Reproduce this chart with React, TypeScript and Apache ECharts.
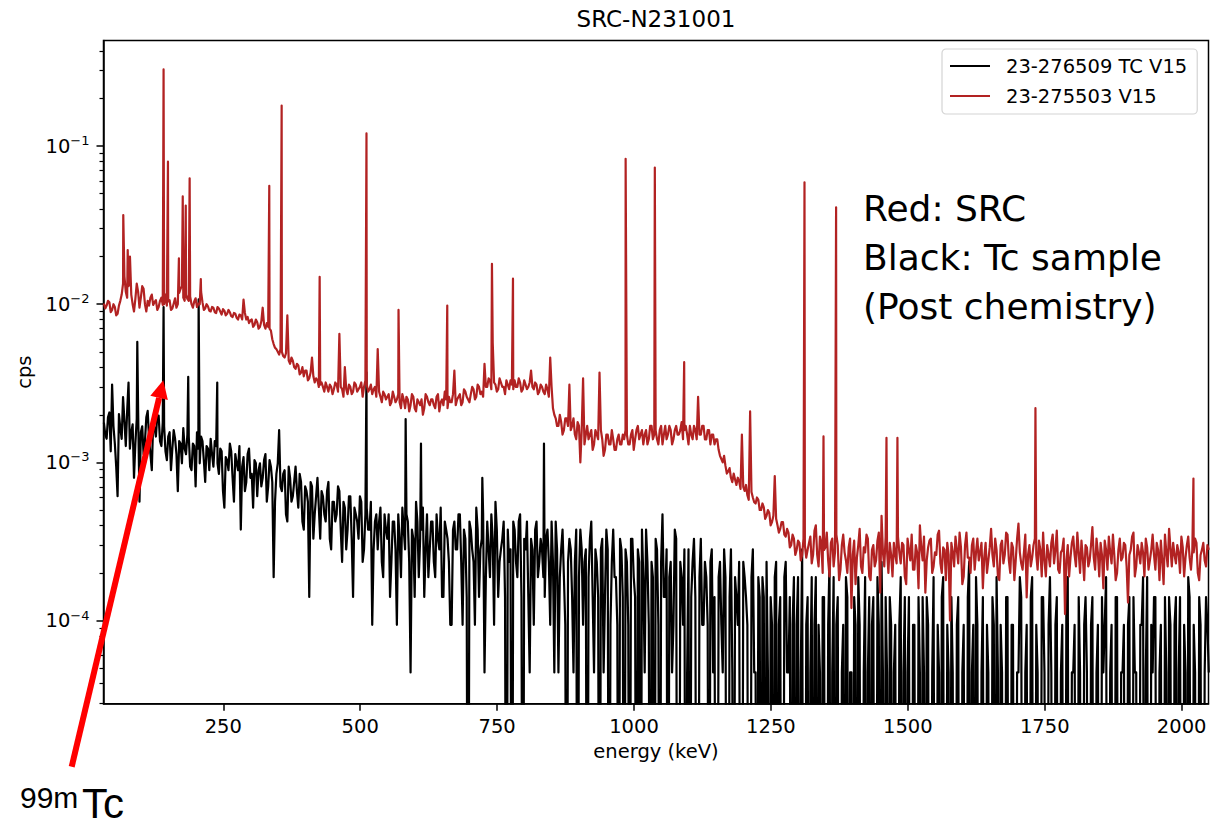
import React, { useEffect, useRef } from 'react';
import * as echarts from 'echarts';

const TITLE = 'SRC-N231001';
const BLACK_NAME = '23-276509 TC V15';
const RED_NAME = '23-275503 V15';
const X_NAME = 'energy (keV)';
const Y_NAME = 'cps';
const NOTE_LINES = ['Red: SRC', 'Black: Tc sample', '(Post chemistry)'];

// two interleaved channel grids (keV): A at 32, 37, 42 ... and B at 34.5, 39.5, 44.5 ...
const GRID_A_START_KEV = 32;
const GRID_B_START_KEV = 34.5;
const GRID_STEP_KEV = 5;

// red spectrum (units of 1e-5 cps), grid A channels
const redBackgroundA = [
  1010, 980, 1030, 920, 960, 870, 1050, 1350, 1200, 1300,
  1150, 900, 1350, 950, 1300, 1000, 1050, 1100, 990, 1060,
  960, 1100, 1000, 980, 1060, 940, 1090, 1000, 1250, 1100,
  1150, 1050, 1000, 1040, 960, 1000, 1030, 940, 970, 900,
  950, 880, 940, 860, 910, 870, 890, 830, 870, 800,
  850, 1070, 800, 760, 800, 740, 770, 720, 950, 700,
  720, 680, 560, 520, 480, 500, 460, 850, 420, 440,
  390, 410, 370, 350, 380, 340, 460, 320, 330, 310,
  300, 320, 280, 300, 290, 310, 650, 290, 400, 270,
  300, 280, 310, 290, 320, 300, 310, 290, 270, 300,
  520, 260, 280, 250, 270, 240, 260, 250, 240, 270,
  220, 250, 230, 260, 210, 240, 250, 220, 260, 230,
  250, 220, 270, 240, 230, 250, 260, 240, 380, 250,
  270, 240, 280, 250, 270, 290, 260, 300, 280, 420,
  300, 330, 570, 310, 290, 320, 300, 330, 290, 310,
  330, 300, 320, 290, 310, 300, 380, 290, 310, 280,
  300, 270, 290, 460, 220, 190, 170, 180, 160, 190,
  310, 170, 150, 180, 100, 340, 150, 140, 160, 130,
  150, 370, 140, 120, 150, 130, 140, 120, 150, 130,
  140, 150, 130, 160, 140, 170, 150, 130, 160, 140,
  170, 150, 140, 160, 130, 170, 150, 160, 140, 170,
  150, 180, 160, 150, 170, 140, 160, 260, 150, 170,
  140, 160, 150, 130, 140, 110, 100, 95, 88, 80,
  85, 72, 76, 150, 66, 62, 210, 60, 55, 58,
  50, 52, 46, 48, 42, 82, 40, 38, 42, 34,
  36, 30, 33, 28, 31, 26, 30, 28, 34, 26,
  40, 22, 31, 28, 36, 19, 33, 27, 30, 21,
  35, 24, 29, 12, 32, 25, 38, 20, 27, 33,
  18, 30, 24, 36, 46, 22, 28, 31, 19, 26,
  34, 23, 30, 17, 28, 35, 21, 27, 40, 24,
  15, 29, 33, 22, 26, 37, 20, 28, 31, 10,
  27, 34, 23, 29, 19, 36, 25, 30, 21, 33,
  27, 16, 31, 24, 38, 22, 28, 18, 32, 26,
  35, 20, 29, 24, 41, 23, 27, 14, 30, 25,
  33, 21, 28, 36, 19, 26, 31, 23, 37, 20,
  28, 11, 30, 25, 34, 22, 27, 32, 18, 29,
  24, 39, 21, 27, 31, 16, 28, 34, 23, 26,
  20, 33, 25, 30, 13, 28, 36, 22, 27, 31,
  19, 29, 24, 35, 21, 28, 32, 17, 27, 38,
  22, 26, 30, 20, 29, 25, 34, 21, 27, 31,
  18, 28, 24, 30,
];

// red spectrum (units of 1e-5 cps), grid B channels
const redBackgroundB = [
  940, 1050, 890, 1000, 850, 980, 1150, 1500, 1100, 1400,
  1000, 1080, 1200, 1100, 1250, 900, 980, 1150, 1030, 920,
  1050, 990, 1150, 1040, 920, 1010, 950, 1180, 1300, 1050,
  1080, 1120, 950, 1090, 1010, 1200, 920, 1000, 910, 960,
  890, 960, 900, 930, 850, 920, 840, 880, 820, 860,
  800, 880, 830, 790, 720, 800, 700, 780, 740, 760,
  700, 600, 530, 500, 520, 470, 490, 440, 460, 400,
  420, 360, 400, 380, 330, 370, 350, 340, 300, 320,
  280, 300, 310, 270, 320, 280, 300, 260, 290, 310,
  270, 320, 280, 300, 260, 330, 280, 310, 290, 260,
  280, 240, 270, 260, 230, 280, 240, 270, 220, 250,
  260, 210, 270, 220, 250, 230, 200, 270, 240, 250,
  230, 260, 210, 250, 280, 220, 240, 270, 230, 260,
  230, 290, 260, 240, 300, 250, 310, 270, 260, 300,
  340, 290, 320, 280, 340, 300, 270, 310, 330, 290,
  300, 340, 280, 330, 290, 320, 300, 320, 270, 310,
  280, 310, 260, 300, 200, 170, 200, 150, 190, 170,
  160, 190, 140, 170, 160, 130, 170, 150, 120, 160,
  140, 160, 110, 150, 130, 160, 120, 140, 130, 150,
  160, 130, 150, 120, 160, 140, 160, 150, 130, 170,
  140, 160, 130, 170, 150, 140, 170, 130, 160, 150,
  160, 140, 170, 130, 150, 170, 140, 150, 170, 140,
  160, 130, 150, 140, 120, 105, 110, 85, 92, 75,
  78, 80, 68, 70, 72, 58, 65, 56, 60, 50,
  55, 44, 50, 40, 46, 44, 36, 42, 35, 38,
  29, 35, 26, 32, 24, 33, 25, 31, 23, 37,
  26, 34, 20, 29, 24, 31, 22, 35, 18, 30,
  27, 20, 33, 26, 17, 30, 22, 29, 35, 19,
  28, 22, 32, 15, 27, 34, 20, 26, 31, 23,
  27, 31, 19, 33, 24, 21, 30, 16, 29, 34,
  24, 32, 20, 27, 35, 23, 29, 18, 26, 31,
  22, 28, 36, 17, 30, 25, 20, 33, 27, 24,
  31, 25, 20, 29, 26, 33, 19, 30, 23, 36,
  24, 31, 18, 33, 27, 21, 35, 26, 22, 30,
  26, 32, 19, 24, 30, 22, 35, 28, 21, 27,
  33, 24, 19, 31, 26, 36, 20, 25, 30, 22,
  30, 25, 33, 19, 26, 32, 21, 27, 35, 18,
  28, 24, 31, 22, 26, 34, 19, 30, 23, 27,
  33, 21, 28, 26, 31, 18, 24, 35, 22, 29,
  31, 23, 27, 34, 19, 30, 25, 28, 33, 20,
  26, 31, 22, 28,
];
const RED_UNIT_CPS = 1e-5;

// red photopeaks (keV, cps)
const redPeakKeV = [67.4, 75.5, 79.6, 141, 149, 169, 176, 181.5, 188.6, 209, 334, 356.6, 426, 511.5, 570, 659, 740.6, 779, 984.7, 1038, 1091.6, 1311.3, 1346, 1369, 1461, 1481, 1733, 2021.5];
const redPeakCps = [0.0366, 0.022, 0.02, 0.305, 0.0796, 0.0195, 0.048, 0.042, 0.0625, 0.0144, 0.056, 0.18, 0.0149, 0.12, 0.0092, 0.0098, 0.018, 0.0145, 0.083, 0.073, 0.0043, 0.059, 0.00146, 0.041, 0.00143, 0.00143, 0.0022, 0.00079];

// black spectrum in counts per channel (1 count = BLACK_CPS_PER_COUNT cps), grid A
const BLACK_CPS_PER_COUNT = 4.7e-5;
const blackCountsA = [
  38, 30, 44, 66, 28, 13, 35, 55, 27, 68,
  33, 17, 40, 12, 36, 29, 45, 24, 38, 31,
  42, 27, 36, 22, 33, 26, 30, 14, 28, 35,
  24, 31, 19, 27, 33, 21, 29, 16, 26, 30,
  20, 27, 18, 25, 11, 22, 28, 17, 24, 19,
  8, 23, 16, 26, 18, 22, 13, 21, 17, 24,
  15, 20, 4, 18, 34, 14, 19, 9, 17, 13,
  20, 11, 16, 8, 14, 3, 15, 10, 17, 7,
  13, 9, 16, 6, 12, 10, 14, 5, 11, 8,
  13, 3, 10, 7, 12, 6, 11, 8, 2, 9,
  6, 11, 4, 8, 10, 5, 9, 2, 7, 11,
  6, 9, 1, 7, 12, 4, 8, 3, 10, 6,
  9, 4, 7, 11, 3, 8, 5, 2, 9, 6,
  10, 2, 7, 0, 8, 5, 11, 3, 7, 1,
  9, 4, 7, 12, 3, 6, 9, 0, 5, 0,
  8, 4, 10, 0, 6, 3, 7, 2, 9, 5,
  6, 3, 8, 2, 5, 9, 1, 6, 4, 0,
  7, 3, 5, 0, 8, 2, 6, 4, 9, 1,
  5, 0, 7, 3, 6, 2, 8, 4, 0, 6,
  0, 5, 0, 7, 3, 6, 0, 4, 8, 2,
  5, 0, 6, 0, 10, 3, 0, 5, 2, 7,
  0, 4, 6, 1, 0, 5, 3, 0, 7, 2,
  4, 0, 6, 3, 0, 5, 1, 4, 0, 6,
  0, 3, 5, 0, 4, 2, 0, 6, 1, 4,
  0, 3, 5, 0, 2, 4, 0, 3, 0, 5,
  1, 0, 4, 2, 0, 6, 0, 3, 1, 0,
  4, 2, 0, 3, 0, 5, 1, 0, 3, 0,
  2, 4, 0, 1, 3, 0, 2, 0, 4, 1,
  0, 3, 0, 2, 5, 0, 1, 3, 0, 2,
  0, 4, 1, 0, 3, 0, 2, 0, 1, 3,
  0, 2, 0, 4, 0, 1, 3, 0, 2, 0,
  1, 0, 3, 0, 2, 0, 5, 1, 0, 2,
  0, 3, 0, 1, 0, 2, 4, 0, 1, 0,
  3, 0, 2, 0, 1, 3, 0, 2, 0, 4,
  0, 1, 0, 3, 0, 2, 1, 0, 3, 0,
  2, 0, 4, 0, 1, 0, 3, 0, 2, 1,
  0, 3, 0, 2, 0, 1, 4, 0, 2, 0,
  3, 0, 1, 0, 2, 0, 3, 1, 0, 2,
  0, 4, 0, 1, 3, 0, 2, 0, 1, 3,
  0, 2, 0, 3, 0, 1, 4, 0, 2, 0,
  3, 0, 1, 2,
];

// black spectrum in counts per channel, grid B
const blackCountsB = [
  32, 41, 25, 36, 20, 43, 30, 39, 45, 26,
  37, 28, 46, 33, 24, 41, 30, 19, 35, 42,
  29, 38, 25, 31, 19, 34, 24, 29, 21, 26,
  32, 20, 28, 15, 26, 31, 22, 27, 19, 24,
  29, 21, 26, 14, 23, 19, 25, 12, 21, 27,
  20, 14, 24, 17, 11, 21, 19, 15, 22, 12,
  22, 16, 12, 21, 15, 18, 10, 20, 12, 16,
  14, 18, 9, 15, 12, 16, 7, 13, 11, 14,
  10, 14, 7, 12, 9, 15, 8, 12, 6, 13,
  7, 11, 9, 13, 5, 10, 8, 12, 6, 10,
  9, 5, 10, 7, 3, 9, 6, 10, 4, 8,
  10, 5, 8, 3, 9, 7, 11, 6, 4, 9,
  5, 10, 6, 3, 9, 7, 2, 8, 6, 10,
  5, 8, 3, 9, 6, 2, 8, 6, 10, 4,
  6, 10, 2, 8, 5, 7, 3, 8, 6, 9,
  5, 9, 3, 7, 9, 1, 6, 8, 4, 7,
  4, 7, 5, 9, 1, 6, 4, 8, 2, 5,
  6, 1, 8, 4, 6, 5, 0, 7, 3, 6,
  3, 6, 1, 8, 0, 5, 4, 2, 7, 3,
  6, 2, 7, 4, 0, 5, 8, 1, 5, 0,
  4, 7, 2, 5, 3, 6, 4, 1, 8, 0,
  5, 2, 0, 6, 3, 7, 0, 4, 2, 5,
  2, 5, 1, 0, 4, 2, 6, 0, 3, 1,
  4, 2, 0, 5, 3, 0, 4, 1, 0, 3,
  4, 0, 1, 3, 0, 5, 2, 0, 4, 1,
  3, 2, 0, 4, 1, 0, 2, 0, 4, 2,
  0, 1, 3, 0, 2, 0, 4, 2, 0, 1,
  0, 3, 1, 0, 2, 4, 0, 1, 0, 3,
  2, 0, 4, 0, 1, 3, 0, 2, 1, 0,
  2, 0, 3, 1, 0, 2, 0, 3, 0, 1,
  3, 0, 1, 0, 2, 0, 4, 0, 1, 3,
  0, 2, 0, 1, 0, 3, 0, 2, 4, 0,
  1, 0, 2, 0, 3, 0, 1, 2, 0, 3,
  0, 2, 0, 1, 4, 0, 1, 0, 3, 0,
  2, 0, 3, 1, 0, 4, 0, 2, 0, 1,
  0, 3, 0, 1, 2, 0, 1, 0, 3, 0,
  2, 0, 1, 0, 3, 2, 0, 1, 0, 3,
  0, 1, 2, 0, 3, 0, 1, 0, 2, 4,
  1, 0, 2, 3, 0, 1, 0, 3, 0, 2,
  0, 3, 1, 0, 2, 0, 3, 0, 1, 0,
  2, 0, 3, 1,
];

// black photopeaks (keV, counts)
const blackPeakKeV = [93, 141, 186, 205, 239, 511.5, 583, 611, 723, 835.6];
const blackPeakCounts = [123, 204, 74, 228, 68, 79, 40, 28, 17, 28];

// zero-count channels fall below the log axis (clipped, as in matplotlib)
const BELOW_AXIS_CPS = 1e-7;

const X_MIN = 31.3;
const X_MAX = 2049;
const Y_MIN = 2.983e-5;
const Y_MAX = 0.4644;
const xTicks = [250, 500, 750, 1000, 1250, 1500, 1750, 2000];
const yMajorTicks = [1e-4, 1e-3, 1e-2, 1e-1];
const yMinorTicks = [
  3e-5, 4e-5, 5e-5, 6e-5, 7e-5, 8e-5, 9e-5,
  2e-4, 3e-4, 4e-4, 5e-4, 6e-4, 7e-4, 8e-4, 9e-4,
  2e-3, 3e-3, 4e-3, 5e-3, 6e-3, 7e-3, 8e-3, 9e-3,
  2e-2, 3e-2, 4e-2, 5e-2, 6e-2, 7e-2, 8e-2, 9e-2,
  2e-1, 3e-1, 4e-1,
];

// arrow annotation: points at the 99mTc peak of the black spectrum
const ARROW_TARGET_KEV = 140.4;
const ARROW_TARGET_CPS = 3.3e-3;

const RED = '#b22222';
const FONT = 'DejaVu Sans';

function buildSeriesData(
  gridA: number[],
  gridB: number[],
  toCps: (v: number) => number,
  peakKeV: number[],
  peakVals: number[],
): number[][] {
  const pts: number[][] = [];
  gridA.forEach((v, i) => pts.push([GRID_A_START_KEV + i * GRID_STEP_KEV, toCps(v)]));
  gridB.forEach((v, i) => pts.push([GRID_B_START_KEV + i * GRID_STEP_KEV, toCps(v)]));
  peakKeV.forEach((e, i) => pts.push([e, toCps(peakVals[i])]));
  pts.sort((a, b) => a[0] - b[0]);
  return pts;
}

export default function App() {
  const ref = useRef<HTMLDivElement>(null);

  useEffect(() => {
    if (!ref.current) return;
    const chart = echarts.init(ref.current, undefined, { renderer: 'svg' });

    const redData = buildSeriesData(
      redBackgroundA,
      redBackgroundB,
      (v) => v * RED_UNIT_CPS,
      redPeakKeV,
      redPeakCps.map((c) => c / RED_UNIT_CPS),
    );

    const blackData = buildSeriesData(
      blackCountsA,
      blackCountsB,
      (c) => (c > 0 ? c * BLACK_CPS_PER_COUNT : BELOW_AXIS_CPS),
      blackPeakKeV,
      blackPeakCounts,
    );

    const axisLineStyle = { color: '#000', width: 1.5 };

    const option: any = {
      animation: false,
      backgroundColor: '#ffffff',
      textStyle: { fontFamily: FONT },
      grid: {
        left: 103.5,
        right: 1226 - 1208.5,
        top: 40.5,
        bottom: 826 - 703.7,
        show: true,
        borderColor: '#000',
        borderWidth: 1.5,
        backgroundColor: 'transparent',
      },
      legend: {
        left: 942,
        top: 49,
        orient: 'vertical',
        backgroundColor: '#ffffff',
        borderColor: '#d4d4d4',
        borderWidth: 1.2,
        borderRadius: 4,
        padding: [7, 10, 8, 8],
        itemWidth: 40,
        itemHeight: 2,
        itemGap: 10,
        icon: 'rect',
        textStyle: { fontSize: 19.5, color: '#000', fontFamily: FONT, lineHeight: 20, padding: [0, 0, 0, 11] },
        data: [BLACK_NAME, RED_NAME],
      },
      xAxis: {
        type: 'value',
        min: X_MIN,
        max: X_MAX,
        name: X_NAME,
        nameLocation: 'middle',
        nameGap: 38,
        nameTextStyle: { fontSize: 19.5, color: '#000', fontFamily: FONT },
        axisLine: { show: true, lineStyle: axisLineStyle },
        axisTick: { show: true, length: 7, lineStyle: axisLineStyle, customValues: xTicks },
        axisLabel: {
          show: true,
          fontSize: 19.5,
          color: '#000',
          margin: 13,
          customValues: xTicks,
          fontFamily: FONT,
          formatter: (v: number) => String(v),
        },
        splitLine: { show: false },
      },
      yAxis: [
        {
          type: 'log',
          min: Y_MIN,
          max: Y_MAX,
          name: Y_NAME,
          nameLocation: 'middle',
          nameGap: 62,
          nameTextStyle: { fontSize: 19.5, color: '#000', fontFamily: FONT },
          axisLine: { show: true, lineStyle: axisLineStyle },
          axisTick: { show: true, length: 7, lineStyle: axisLineStyle, customValues: yMajorTicks },
          axisLabel: {
            show: true,
            margin: 14,
            customValues: yMajorTicks,
            formatter: (v: number) => `{b|10}{s|\u2212${Math.abs(Math.round(Math.log10(v)))}}`,
            rich: {
              b: { fontSize: 19.5, lineHeight: 24, color: '#000', fontFamily: FONT },
              s: { fontSize: 13, lineHeight: 13, color: '#000', fontFamily: FONT, verticalAlign: 'top' },
            },
          },
          splitLine: { show: false },
          minorTick: { show: false },
        },
        {
          type: 'log',
          min: Y_MIN,
          max: Y_MAX,
          position: 'left',
          offset: 0,
          axisLine: { show: false },
          axisTick: { show: true, length: 4, lineStyle: { color: '#000', width: 1.2 }, customValues: yMinorTicks },
          axisLabel: { show: false },
          splitLine: { show: false },
        },
      ],
      series: [
        {
          name: BLACK_NAME,
          type: 'line',
          data: blackData,
          showSymbol: false,
          symbol: 'none',
          color: '#000',
          itemStyle: { color: '#000' },
          lineStyle: { color: '#000', width: 2.2, join: 'round' },
          clip: true,
          z: 2,
        },
        {
          name: RED_NAME,
          type: 'line',
          data: redData,
          showSymbol: false,
          symbol: 'none',
          color: RED,
          itemStyle: { color: RED },
          lineStyle: { color: RED, width: 2.2, join: 'round' },
          clip: true,
          z: 3,
        },
      ],
    };

    chart.setOption(option);

    const tip = chart.convertToPixel({ seriesIndex: 0 }, [ARROW_TARGET_KEV, ARROW_TARGET_CPS]) as number[];
    const tail = [71.7, 766.7];
    const dx = tip[0] - tail[0];
    const dy = tip[1] - tail[1];
    const len = Math.sqrt(dx * dx + dy * dy);
    const ux = dx / len;
    const uy = dy / len;
    const headLen = 18;
    const headHalf = 9;
    const bx = tip[0] - ux * headLen;
    const by = tip[1] - uy * headLen;
    const nx = -uy;
    const ny = ux;

    const textEl = (text: string, x: number, y: number, size: number, family: string, align: string) => ({
      type: 'text',
      x,
      y,
      z: 100,
      style: {
        text,
        fill: '#000',
        fontSize: size,
        fontFamily: family,
        lineHeight: size,
        align,
        textAlign: align,
        verticalAlign: 'middle',
        textVerticalAlign: 'middle',
      },
    });

    chart.setOption({
      graphic: [
        textEl(TITLE, 656, 18.5, 23, FONT, 'center'),
        textEl(NOTE_LINES[0], 863, 208, 36, FONT, 'left'),
        textEl(NOTE_LINES[1], 863, 257, 36, FONT, 'left'),
        textEl(NOTE_LINES[2], 863, 306, 36, FONT, 'left'),
        textEl('99m', 20, 797, 30, 'Liberation Sans', 'left'),
        textEl('Tc', 82, 803, 42, 'Liberation Sans', 'left'),
        {
          type: 'line',
          z: 100,
          shape: { x1: tail[0], y1: tail[1], x2: bx, y2: by },
          style: { stroke: '#ff0000', lineWidth: 6 },
        },
        {
          type: 'polygon',
          z: 100,
          shape: {
            points: [
              [tip[0], tip[1]],
              [bx + nx * headHalf, by + ny * headHalf],
              [bx - nx * headHalf, by - ny * headHalf],
            ],
          },
          style: { fill: '#ff0000' },
        },
      ],
    });

    return () => chart.dispose();
  }, []);

  return (
    <div
      ref={ref}
      style={{ position: 'fixed', left: 0, top: 0, width: 1226, height: 826, background: '#ffffff' }}
    />
  );
}
